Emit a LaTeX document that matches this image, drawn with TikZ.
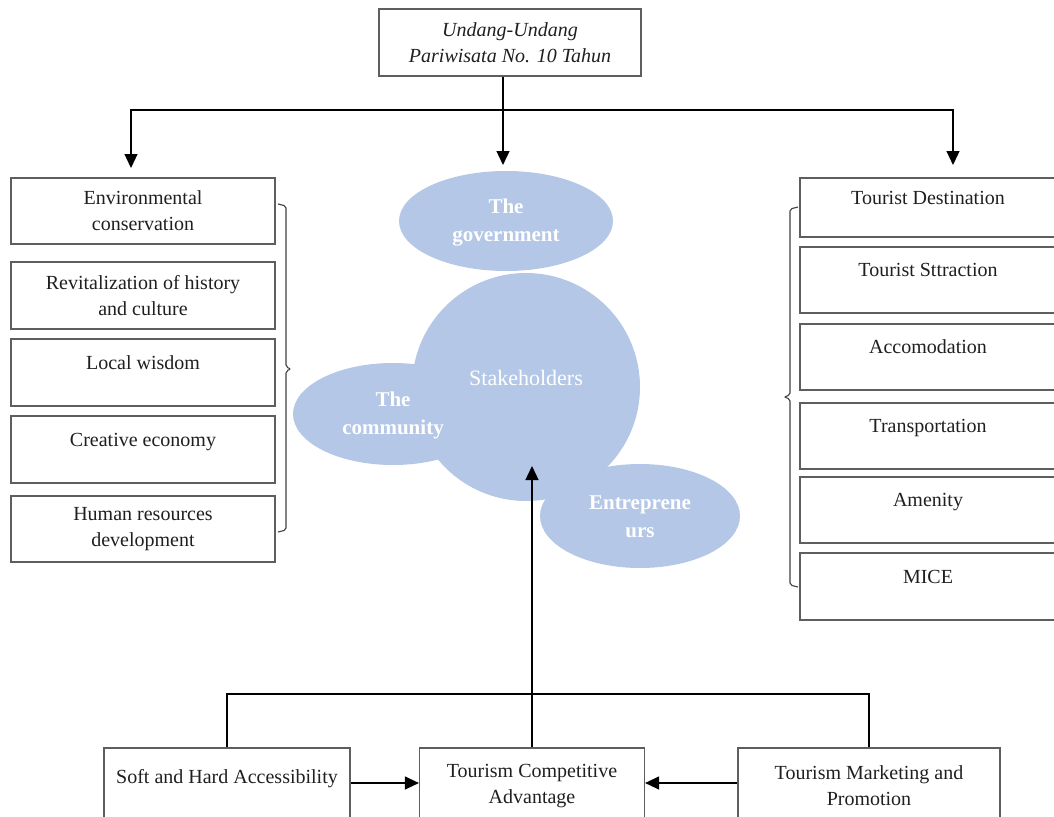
\documentclass[tikz,border=0pt]{standalone}
\usepackage{fontspec}
\setmainfont{Liberation Serif}
\usetikzlibrary{arrows.meta,shapes.geometric}
\definecolor{bubblefill}{HTML}{B4C7E7}
\definecolor{frame}{HTML}{5E5E5E}
\newcommand{\basefont}{\fontsize{20}{26}\selectfont}

\begin{document}
\begin{tikzpicture}[x=1pt,y=-1pt]
    \tikzstyle{box}=[draw=frame,line width=1.2pt,align=center,inner sep=0pt,font=\basefont,text=black!88]
    \tikzstyle{leftbox}=[box,minimum width=264pt]
    \tikzstyle{rightbox}=[box,minimum width=256pt,minimum height=66pt]
    \tikzstyle{lowbox}=[box,minimum height=76pt]
    \tikzstyle{blob}=[fill=bubblefill,draw=none,inner sep=0pt]
    \tikzstyle{blobtext}=[align=center,text=white,font=\fontsize{21}{28}\selectfont\bfseries]
    \tikzstyle{link}=[line width=1.3pt,-{Triangle[width=13pt,length=14pt]}]
    \tikzstyle{wire}=[line width=1.3pt]
    \tikzstyle{bracket}=[line width=1.1pt,draw=black!75,rounded corners=2pt]
    \useasboundingbox (0,0) rectangle (1054,816);

    % law on top
    \node[box,minimum width=262pt,minimum height=67pt,font=\basefont\itshape] (law) at (510,42.5) {Undang-Undang\\Pariwisata No. 10 Tahun};
    \coordinate (hub) at (503,110);
    \coordinate (envtip) at (131,168);
    \coordinate (govtip) at (503,165);
    \coordinate (desttip) at (953,165);

    % left column
    \node[leftbox,minimum height=66pt] (env) at (143,211) {Environmental\\conservation};
    \node[leftbox,minimum height=67pt] (revit) at (143,295.5) {Revitalization of history\\and culture};
    \node[leftbox,minimum height=67pt] (local) at (143,372.5) {Local wisdom\\[-6pt]\mbox{}};
    \node[leftbox,minimum height=67pt] (creative) at (143,449.5) {Creative economy\\[-6pt]\mbox{}};
    \node[leftbox,minimum height=66pt] (human) at (143,529) {Human resources\\development};
    \draw[bracket] (278,204) -- (286,206) -- (286,367) -- (291,369) -- (286,371) -- (286,530) -- (278,532);

    % right column
    \node[rightbox,minimum height=59pt] (dest) at (928,207.5) {Tourist Destination\\[-6pt]\mbox{}};
    \node[rightbox] (attr) at (928,280) {Tourist Sttraction\\[-6pt]\mbox{}};
    \node[rightbox] (accom) at (928,357) {Accomodation\\[-6pt]\mbox{}};
    \node[rightbox] (trans) at (928,436) {Transportation\\[-6pt]\mbox{}};
    \node[rightbox] (amen) at (928,510) {Amenity\\[-6pt]\mbox{}};
    \node[rightbox,minimum height=67pt] (mice) at (928,586.5) {MICE\\[-6pt]\mbox{}};
    \draw[bracket] (798,207) -- (790,209) -- (790,395) -- (784,397) -- (790,399) -- (790,585) -- (798,587);

    % stakeholders
    \node[blob,circle,minimum size=228pt] (stake) at (526,387) {};
    \node[blob,ellipse,minimum width=214pt,minimum height=100pt] (gov) at (506,221) {};
    \node[blob,ellipse,minimum width=200pt,minimum height=102pt] (comm) at (393,414) {};
    \node[blob,ellipse,minimum width=200pt,minimum height=104pt] (entre) at (640,516) {};
    \node[blobtext] (govlabel) at (506,223) {The\\government};
    \node[blobtext] (commlabel) at (393,415) {The\\community};
    \node[blobtext] (entrelabel) at (640,517) {Entreprene\\urs};
    \node[text=white,font=\fontsize{22}{26}\selectfont] (stakelabel) at (526,378) {Stakeholders};

    % bottom row
    \node[lowbox,minimum width=246pt] (soft) at (227,786) {Soft and Hard Accessibility\\[-6pt]\mbox{}};
    \node[lowbox,minimum width=225pt] (tca) at (532,786) {Tourism Competitive\\Advantage};
    \node[lowbox,minimum width=262pt] (market) at (869,786) {Tourism Marketing and\\Promotion};
    \coordinate (ridge) at (532,694);
    \coordinate (tip) at (532,466);

    \draw[wire] (law.south -| hub) -- (hub);
    \draw[link] (hub) -| (envtip);
    \draw[link] (hub) -- (govtip);
    \draw[link] (hub) -| (desttip);

    \draw[wire] (soft.north) |- (ridge) -| (market.north);
    \draw[link] (tca.north) -- (tip);
    \draw[link] (soft.east |- 0,783) -- (tca.west |- 0,783);
    \draw[link] (market.west |- 0,783) -- (tca.east |- 0,783);
\end{tikzpicture}
\end{document}
